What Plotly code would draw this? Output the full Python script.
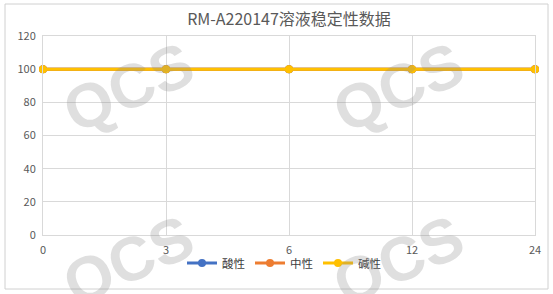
import plotly.graph_objects as go

categories = ["0", "3", "6", "12", "24"]
acid = [100, 100, 100, 100, 100]
neutral = [100, 100, 100, 100, 100]
alkaline = [100, 100, 100, 100, 100]
series_names = ["酸性", "中性", "碱性"]
title_text = "RM-A220147溶液稳定性数据"
watermark = "QCS"

colors = ["#4472C4", "#ED7D31", "#FFC000"]
W, H = 553, 294
L, R, T, B = 43, 18, 36, 59
pw, ph = W - L - R, H - T - B

def px(x):
    return (x - L) / pw

def py(y):
    return (H - B - y) / ph

fig = go.Figure()
for name, vals, c in zip(series_names, [acid, neutral, alkaline], colors):
    fig.add_trace(go.Scatter(
        x=categories, y=vals, name=name, mode="lines+markers",
        line=dict(color=c, width=3), marker=dict(color=c, size=8),
        cliponaxis=False,
    ))

font_cjk = "Noto Sans CJK SC, Noto Sans, sans-serif"
axis_col = "#d9d9d9"
fig.update_layout(
    width=W, height=H,
    margin=dict(l=L, r=R, t=T, b=B, pad=0),
    paper_bgcolor="white", plot_bgcolor="white",
    title=dict(text=title_text, x=0.5, xref="paper", xanchor="center",
               y=1 - 19 / H, yanchor="middle",
               font=dict(family=font_cjk, size=16, color="#595959")),
    xaxis=dict(type="category", range=[0, 4], showgrid=True, gridcolor=axis_col,
               gridwidth=1, showline=True, linecolor=axis_col, mirror=True,
               ticks="outside", ticklen=5, tickcolor="rgba(0,0,0,0)",
               tickfont=dict(family=font_cjk, size=11, color="#595959"),
               zeroline=False),
    yaxis=dict(range=[0, 120], dtick=20, showgrid=True, gridcolor=axis_col,
               gridwidth=1, showline=True, linecolor=axis_col, mirror=True,
               ticks="outside", ticklen=4, tickcolor="rgba(0,0,0,0)",
               tickfont=dict(family=font_cjk, size=11, color="#595959"),
               zeroline=False),
    legend=dict(orientation="h", x=px(284), xanchor="center", y=py(263),
                yanchor="middle", font=dict(family=font_cjk, size=11.5, color="#404040"),
                bgcolor="rgba(0,0,0,0)", itemwidth=30, tracegroupgap=0),
    showlegend=True,
)

# chart border
fig.add_shape(type="rect", xref="paper", yref="paper",
              x0=px(5), x1=px(548), y0=py(289), y1=py(4),
              line=dict(color="#d0d0d0", width=1), fillcolor="rgba(0,0,0,0)", layer="below")

for cx, cy in [(128, 87), (398, 87), (128, 260), (398, 260)]:
    fig.add_annotation(text=watermark, xref="paper", yref="paper",
                       x=px(cx), y=py(cy), xanchor="center", yanchor="middle",
                       showarrow=False, textangle=-24,
                       font=dict(family="Liberation Sans", size=62, color="rgba(140,140,140,0.28)",
                                 weight="bold"))

fig.write_html("out.html")
